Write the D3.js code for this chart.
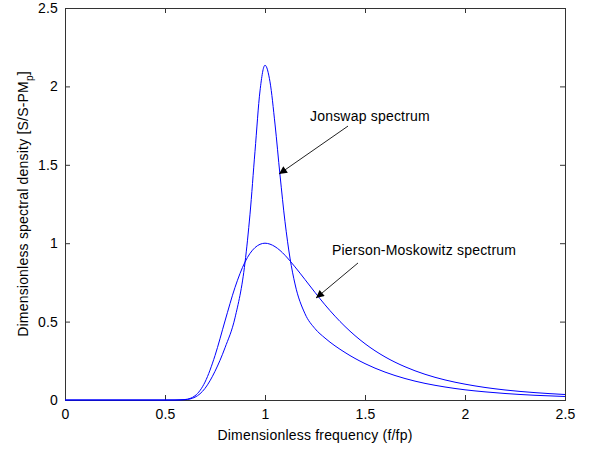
<!DOCTYPE html>
<html>
<head>
<meta charset="utf-8">
<script src="https://cdn.jsdelivr.net/npm/d3@7"></script>
<style>
  body { margin: 0; background: #fff; }
  text { font-family: "Liberation Sans", Arial, sans-serif; letter-spacing: 0.2px; }
</style>
</head>
<body>
<div id="chart"></div>
<script>
// Data
const freq = [0, 0.5, 0.55, 0.6, 0.65, 0.7, 0.75, 0.8, 0.85, 0.9, 0.925, 0.95, 0.975, 1,
  1.025, 1.05, 1.075, 1.1, 1.125, 1.15, 1.2, 1.25, 1.3, 1.4, 1.5, 1.6, 1.7, 1.8, 1.9,
  2.0, 2.1, 2.2, 2.35, 2.5];
const jonswap = [0, 0, 0.0001, 0.002, 0.018, 0.074, 0.183, 0.333, 0.524, 0.876, 1.185, 1.586,
  1.971, 2.135, 2.029, 1.760, 1.435, 1.137, 0.905, 0.740, 0.550, 0.455, 0.395, 0.303, 0.232,
  0.178, 0.137, 0.106, 0.083, 0.065, 0.052, 0.0415, 0.030, 0.0224];
const piersonMoskowitz = [0, 0, 0.0001, 0.003, 0.027, 0.114, 0.283, 0.504, 0.718, 0.880, 0.935,
  0.972, 0.993, 1.0, 0.994, 0.978, 0.954, 0.923, 0.887, 0.849, 0.768, 0.686, 0.607, 0.469,
  0.359, 0.275, 0.212, 0.164, 0.128, 0.101, 0.080, 0.064, 0.047, 0.035];

const xTicks = [0, 0.5, 1, 1.5, 2, 2.5];
const xTickLabels = ["0", "0.5", "1", "1.5", "2", "2.5"];
const yTicks = [0, 0.5, 1, 1.5, 2, 2.5];
const yTickLabels = ["0", "0.5", "1", "1.5", "2", "2.5"];

// Text annotations with arrows (data coordinates)
const annotations = [
  { label: "Jonswap spectrum", tx: 1.225, ty: 1.78, x1: 1.415, y1: 1.747, x2: 1.07, y2: 1.441 },
  { label: "Pierson-Moskowitz spectrum", tx: 1.335, ty: 0.925, x1: 1.465, y1: 0.874, x2: 1.255, y2: 0.65 }
];

const W = 592, H = 450;
const plot = { left: 65, right: 565, top: 8, bottom: 400 };

const svg = d3.select("#chart").append("svg")
  .attr("width", W)
  .attr("height", H);

const x = d3.scaleLinear().domain([0, 2.5]).range([plot.left, plot.right]);
const y = d3.scaleLinear().domain([0, 2.5]).range([plot.bottom, plot.top]);

const axisColor = "#333";

// Axes (ticks inside, on all four sides like MATLAB box on)
const gx = svg.append("g")
  .attr("transform", `translate(0,${plot.bottom})`)
  .call(d3.axisBottom(x).tickValues(xTicks)
    .tickFormat((d, i) => xTickLabels[i])
    .tickSizeInner(-5).tickSizeOuter(0).tickPadding(9));
const gy = svg.append("g")
  .attr("transform", `translate(${plot.left},0)`)
  .call(d3.axisLeft(y).tickValues(yTicks)
    .tickFormat((d, i) => yTickLabels[i])
    .tickSizeInner(-5).tickSizeOuter(0).tickPadding(7));
const gt = svg.append("g")
  .attr("transform", `translate(0,${plot.top})`)
  .call(d3.axisTop(x).tickValues(xTicks).tickFormat("")
    .tickSizeInner(-5).tickSizeOuter(0));
const gr = svg.append("g")
  .attr("transform", `translate(${plot.right},0)`)
  .call(d3.axisRight(y).tickValues(yTicks).tickFormat("")
    .tickSizeInner(-5).tickSizeOuter(0));

[gx, gy, gt, gr].forEach(g => {
  g.select(".domain").remove();
  g.selectAll(".tick line").attr("stroke", axisColor);
  g.selectAll(".tick text")
    .attr("fill", "#000")
    .style("font-size", "14px")
    .style("font-family", "'Liberation Sans', Arial, sans-serif");
});

// Box
svg.append("rect")
  .attr("x", plot.left + 0.5)
  .attr("y", plot.top + 0.5)
  .attr("width", plot.right - plot.left)
  .attr("height", plot.bottom - plot.top)
  .attr("fill", "none")
  .attr("stroke", axisColor)
  .attr("stroke-width", 1);

// Curves
const line = d3.line()
  .x(d => x(d[0]))
  .y(d => y(d[1]))
  .curve(d3.curveMonotoneX);

const series = [jonswap, piersonMoskowitz];
svg.selectAll("path.curve")
  .data(series)
  .join("path")
  .attr("class", "curve")
  .attr("d", s => line(freq.map((f, i) => [f, s[i]])))
  .attr("fill", "none")
  .attr("stroke", "#0000ff")
  .attr("stroke-width", 1);

// Arrow marker
svg.append("defs").append("marker")
  .attr("id", "arrow")
  .attr("viewBox", "0 0 10 10")
  .attr("refX", 10)
  .attr("refY", 5)
  .attr("markerUnits", "userSpaceOnUse")
  .attr("markerWidth", 11)
  .attr("markerHeight", 8)
  .attr("orient", "auto")
  .append("path")
  .attr("d", "M0,0 L10,5 L0,10 Z")
  .attr("fill", "#000");

const ann = svg.selectAll("g.ann")
  .data(annotations)
  .join("g")
  .attr("class", "ann");

ann.append("line")
  .attr("x1", d => x(d.x1))
  .attr("y1", d => y(d.y1))
  .attr("x2", d => x(d.x2))
  .attr("y2", d => y(d.y2))
  .attr("stroke", "#222")
  .attr("stroke-width", 1)
  .attr("marker-end", "url(#arrow)");

ann.append("text")
  .attr("x", d => x(d.tx))
  .attr("y", d => y(d.ty))
  .style("font-size", "14px")
  .attr("fill", "#000")
  .text(d => d.label);

// Axis labels
svg.append("text")
  .attr("x", (plot.left + plot.right) / 2)
  .attr("y", 440)
  .attr("text-anchor", "middle")
  .style("font-size", "14px")
  .text("Dimensionless frequency (f/fp)");

const yl = svg.append("text")
  .attr("transform", `translate(28,${(plot.top + plot.bottom) / 2}) rotate(-90)`)
  .attr("text-anchor", "middle")
  .style("font-size", "14px");
yl.append("tspan").text("Dimensionless spectral density [S/S-PM");
yl.append("tspan").attr("dy", 5).style("font-size", "10px").text("p");
yl.append("tspan").attr("dy", -5).text("]");
</script>
</body>
</html>
